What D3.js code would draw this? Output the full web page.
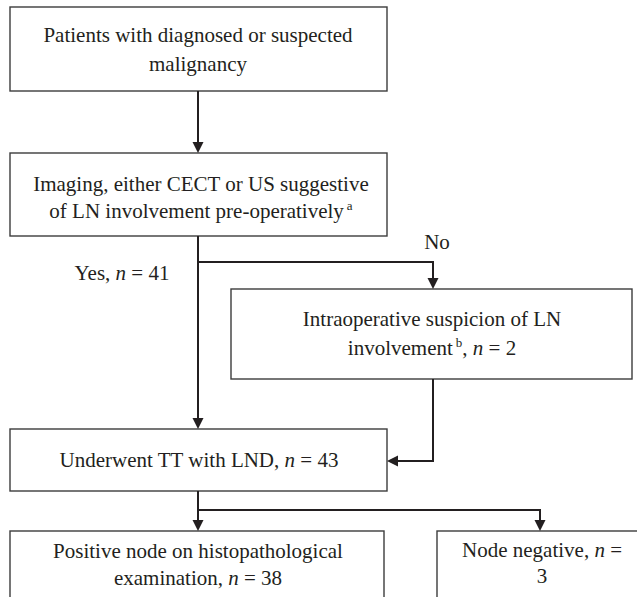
<!DOCTYPE html>
<html>
<head>
<meta charset="utf-8">
<script src="https://cdn.jsdelivr.net/npm/d3@7"></script>
<style>
  svg text, svg tspan { font-family: "Liberation Serif", Tinos, Times, serif !important; }
</style>
</head>
<body style="margin:0">
<script>
// flowchart data: box text (one entry per line, _x_ = italic, ^x^ = superscript)
var boxLines = [
  ["Patients with diagnosed or suspected", "malignancy"],
  ["Imaging, either CECT or US suggestive", "of LN involvement pre-operatively^a^"],
  ["Intraoperative suspicion of LN", "involvement^b^, _n_ = 2"],
  ["Underwent TT with LND, _n_ = 43"],
  ["Positive node on histopathological", "examination, _n_ = 38"],
  ["Node negative, _n_ =", "3"]
];
var branchLabels = ["Yes, _n_ = 41", "No"];
var counts = [41, 2, 43, 38, 3];   // yes, intraop, LND, positive, negative

// layout (pixels)
var boxes = [
  {x: 10,  y: 7,   w: 377, h: 84, cx: 198, base: [42, 71]},
  {x: 10,  y: 153, w: 377, h: 83, cx: 201, base: [191, 218]},
  {x: 231, y: 289, w: 401, h: 90, cx: 432, base: [326, 355]},
  {x: 10,  y: 429, w: 377, h: 62, cx: 199, base: [467]},
  {x: 10,  y: 531, w: 374, h: 80, cx: 198, base: [558, 585]},
  {x: 437, y: 531, w: 212, h: 80, cx: 542, base: [557, 583]}
];
var labelPos = [{x: 122, y: 280}, {x: 437, y: 249}];
var links = [
  [[198, 91], [198, 153]],
  [[198, 236], [198, 429]],
  [[198, 262], [433, 262], [433, 289]],
  [[433, 379], [433, 461], [387, 461]],
  [[198, 491], [198, 531]],
  [[198, 510], [540, 510], [540, 531]]
];

var svg = d3.select("body").append("svg")
  .attr("width", 637)
  .attr("height", 597);

svg.append("rect").attr("width", 637).attr("height", 597).attr("fill", "#fff");

// boxes
svg.selectAll("rect.box").data(boxes).enter()
  .append("rect")
  .attr("class", "box")
  .attr("x", function(d) { return d.x; })
  .attr("y", function(d) { return d.y; })
  .attr("width", function(d) { return d.w; })
  .attr("height", function(d) { return d.h; })
  .attr("fill", "#fff")
  .attr("stroke", "#3c3c3c")
  .attr("stroke-width", 1.4);

// split "_n_ = 2^b^" into styled pieces
function pieces(s) {
  var out = [];
  var re = /(_[^_]+_|\^[^^]+\^)/g;
  s.split(re).forEach(function(p) {
    if (!p) return;
    if (p[0] === "_") out.push({t: p.slice(1, -1), it: true});
    else if (p[0] === "^") out.push({t: p.slice(1, -1), sup: true});
    else out.push({t: p});
  });
  return out;
}

function writeLine(str, x, y) {
  var t = svg.append("text")
    .attr("x", x).attr("y", y)
    .attr("text-anchor", "middle")
    .attr("font-family", "Liberation Serif")
    .attr("fill", "#231f20")
    .style("font-family", "Liberation Serif")
    .style("font-size", "21px");
  var raised = false;
  pieces(str).forEach(function(p) {
    var ts = t.append("tspan").text(p.t);
    if (p.it) ts.style("font-style", "italic");
    if (p.sup) {
      ts.style("font-size", "13px").attr("dy", -8).attr("dx", 3);
      raised = true;
    } else if (raised) {
      ts.attr("dy", 8);
      raised = false;
    }
  });
}

boxLines.forEach(function(lines, i) {
  var b = boxes[i];
  lines.forEach(function(l, j) { writeLine(l, b.cx, b.base[j]); });
});
branchLabels.forEach(function(l, i) { writeLine(l, labelPos[i].x, labelPos[i].y); });

// connectors with arrowheads
var path = d3.line();
var aLen = 11, aHalf = 5.5;
links.forEach(function(pts) {
  var n = pts.length;
  var end = pts[n - 1], prev = pts[n - 2];
  var dx = end[0] - prev[0], dy = end[1] - prev[1];
  var len = Math.sqrt(dx * dx + dy * dy);
  var ux = dx / len, uy = dy / len;
  var base = [end[0] - ux * aLen, end[1] - uy * aLen];
  var shaft = pts.slice(0, n - 1).concat([base]);
  svg.append("path")
    .attr("d", path(shaft))
    .attr("fill", "none")
    .attr("stroke", "#231f20")
    .attr("stroke-width", 2);
  svg.append("path")
    .attr("d", path([
      [end[0], end[1]],
      [base[0] - uy * aHalf, base[1] + ux * aHalf],
      [base[0] + uy * aHalf, base[1] - ux * aHalf]
    ]) + "Z")
    .attr("fill", "#231f20");
});
</script>
</body>
</html>
